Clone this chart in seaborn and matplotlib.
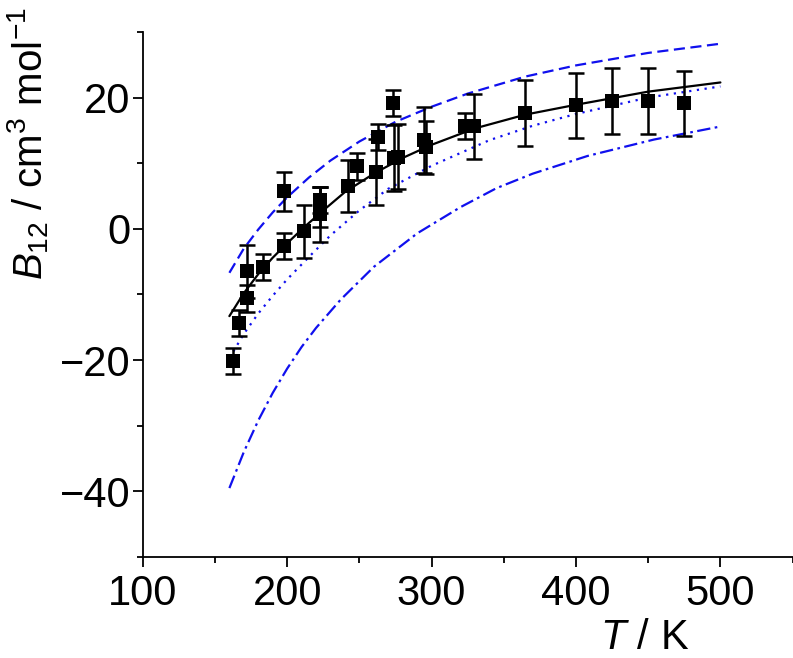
import numpy as np
import pandas as pd
import seaborn as sns
import matplotlib.pyplot as plt
from matplotlib.ticker import MultipleLocator

# measured points
T_exp = [162.5, 167, 172.5, 172.5, 183, 198, 198, 212, 223, 223, 223, 241.8, 248.3,
         261.5, 262.9, 273, 274, 277, 295, 296, 323.3, 329.4, 364.5, 400, 425, 450, 475]
B_exp = [-20.1, -14.4, -10.6, -6.5, -5.8, -2.6, 5.7, -0.4, 2.2, 3.3, 4.4, 6.5, 9.5,
         8.7, 14.0, 19.2, 10.8, 11.0, 13.5, 12.4, 15.7, 15.6, 17.6, 18.8, 19.5, 19.5, 19.1]
B_err = [2, 2, 2, 4, 2, 2, 3, 4, 4.2, 3, 2, 4, 2,
         5, 2, 2, 5, 5, 5, 4, 2, 5, 5, 5, 5, 5, 5]

# fitted curve (solid)
T_fit = [160, 170, 180, 190, 200, 212, 225, 240, 260, 280, 300, 330, 365, 400, 450, 500]
B_fit = [-13.3, -9.8, -6.9, -4.4, -2.2, 0.3, 2.8, 5.6, 8.4, 10.8, 12.8, 15.3, 17.4, 18.9, 20.9, 22.3]

# blue dashed curve
T_dash = [160, 170, 180, 190, 200, 215, 230, 250, 275, 300, 325, 365, 400, 450, 500]
B_dash = [-6.7, -3.0, -0.1, 2.5, 4.8, 7.8, 10.4, 13.3, 16.3, 18.6, 20.6, 23.2, 24.9, 26.8, 28.2]

# blue dotted curve
T_dot = [160, 170, 180, 190, 200, 215, 230, 250, 270, 300, 340, 370, 400, 450, 500]
B_dot = [-19.7, -16.0, -12.9, -10.2, -7.7, -4.3, -1.0, 2.8, 6.1, 9.6, 13.5, 15.7, 17.5, 20.0, 21.7]

# blue dash-dot curve
T_dd = [160, 170, 180, 190, 200, 210, 220, 237, 260, 290, 320, 345, 370, 408, 454, 498]
B_dd = [-39.5, -34.0, -29.2, -25.0, -21.3, -18.0, -15.1, -10.8, -5.8, -0.7, 3.3, 6.2, 8.4, 11.1, 13.6, 15.5]

sns.set_style("ticks")
plt.rcParams['font.family'] = ['Liberation Sans', 'DejaVu Sans']
plt.rcParams['mathtext.fontset'] = 'custom'
plt.rcParams['mathtext.rm'] = 'Liberation Sans'
plt.rcParams['mathtext.it'] = 'Liberation Sans:italic'
plt.rcParams['text.color'] = 'black'
plt.rcParams['xtick.color'] = 'black'
plt.rcParams['ytick.color'] = 'black'
plt.rcParams['axes.edgecolor'] = 'black'

fig = plt.figure(figsize=(7.93, 6.58), dpi=100)
ax = fig.add_axes([0.18, 0.1535, 0.8195, 0.798])

blue = '#1010ee'
sns.lineplot(x=T_dash, y=B_dash, color=blue, lw=1.6, ls=(0, (5, 2.5)), sort=False, ax=ax)
sns.lineplot(x=T_dot, y=B_dot, color=blue, lw=1.6, ls=(0, (1, 2.5)), sort=False, ax=ax)
sns.lineplot(x=T_dd, y=B_dd, color=blue, lw=1.6, ls=(0, (6, 2, 1.2, 2)), sort=False, ax=ax)
sns.lineplot(x=T_fit, y=B_fit, color='black', lw=1.6, sort=False, ax=ax)

ax.errorbar(T_exp, B_exp, yerr=B_err, fmt='none', ecolor='black', elinewidth=1.8,
            capsize=6, capthick=1.8, zorder=4)
sns.scatterplot(x=T_exp, y=B_exp, marker='s', s=110, color='black', edgecolor='black',
                linewidth=0, ax=ax, zorder=5)

ax.set_xlim(100, 550)
ax.set_ylim(-50, 30)
ax.xaxis.set_major_locator(MultipleLocator(100))
ax.xaxis.set_minor_locator(MultipleLocator(50))
ax.yaxis.set_major_locator(MultipleLocator(20))
ax.yaxis.set_minor_locator(MultipleLocator(10))
ax.set_xticks([100, 200, 300, 400, 500])
ax.tick_params(which='major', length=7, width=1.3, labelsize=30, direction='out',
               labelcolor='black')
ax.tick_params(which='minor', length=4, width=1.3, direction='out')
ax.tick_params(axis='x', pad=5)
ax.tick_params(axis='y', pad=2)
for s in ['top', 'right']:
    ax.spines[s].set_visible(False)
for s in ['left', 'bottom']:
    ax.spines[s].set_linewidth(1.3)

fig.text(645 / 793, 1 - 618 / 658, r'$\it{T}$ / K', fontsize=30, ha='center', va='top',
         color='black')
fig.text(28 / 793, 1 - 280 / 658, r'$\it{B}_{12}$ / cm$^3$ mol$^{-1}$', fontsize=29,
         rotation=90, ha='center', va='bottom', color='black')

fig.savefig('out.png', dpi=100)
